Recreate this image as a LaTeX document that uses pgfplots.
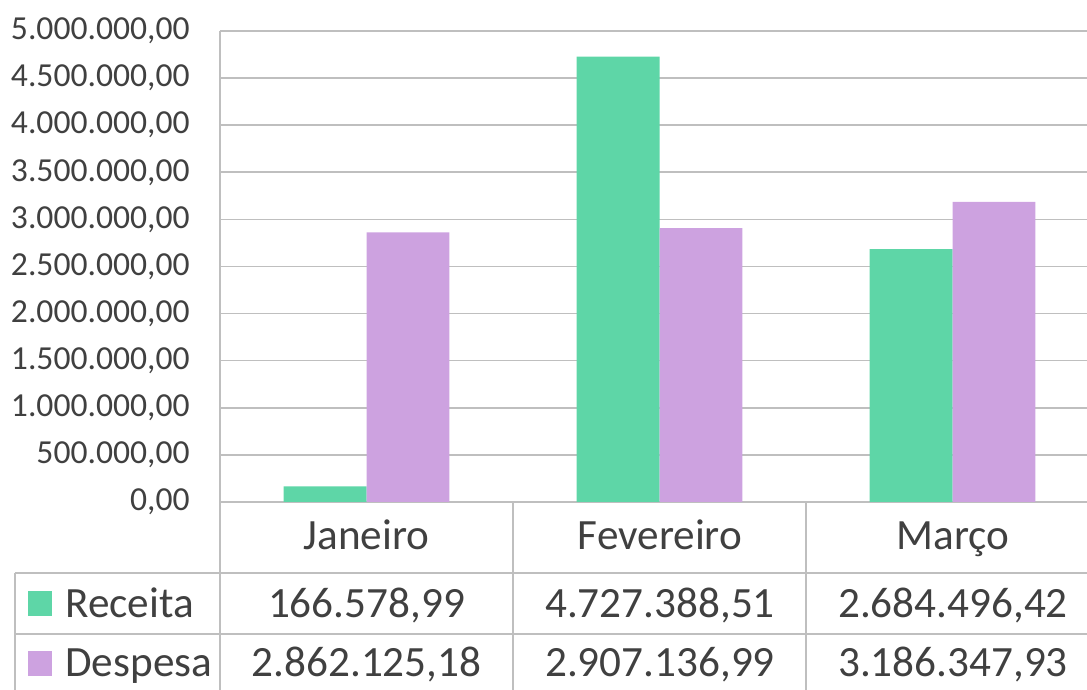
\documentclass[border=0pt]{standalone}
\usepackage{pgfplots}
\pgfplotsset{compat=1.18}
\usepackage{fontspec}
\setmainfont{Carlito}
\definecolor{recgreen}{HTML}{5ED6A7}
\definecolor{desppurple}{HTML}{CDA2E0}
\definecolor{txt}{HTML}{404040}
\definecolor{gridc}{HTML}{BFBFBF}
\begin{document}
\begin{tikzpicture}
\begin{axis}[
  name=ax,
  scale only axis,
  width=433.5pt, height=235.5pt,
  xmin=-0.5, xmax=2.459,
  ymin=0, ymax=5000000,
  axis line style={draw=none},
  xtick=\empty,
  ytick={0,500000,1000000,1500000,2000000,2500000,3000000,3500000,4000000,4500000,5000000},
  yticklabels={{0,00},{500.000,00},{1.000.000,00},{1.500.000,00},{2.000.000,00},{2.500.000,00},{3.000.000,00},{3.500.000,00},{4.000.000,00},{4.500.000,00},{5.000.000,00}},
  scaled y ticks=false,
  major tick length=0pt,
  ymajorgrids,
  major grid style={gridc, line width=0.8pt},
  yticklabel style={font=\fontsize{16.8}{18}\selectfont, text=txt, inner sep=0pt, anchor=east, xshift=-15pt},
  clip=false,
]
\addplot[ybar, fill=recgreen, draw=none, bar width=0.283, bar shift=-0.1415]
  coordinates {(0,166578.99) (1,4727388.51) (2,2684496.42)};
\addplot[ybar, fill=desppurple, draw=none, bar width=0.283, bar shift=0.1415]
  coordinates {(0,2862125.18) (1,2907136.99) (2,3186347.93)};
\end{axis}
\begin{scope}[shift={(ax.south west)}]
  % table lines
  \draw[gridc, line width=0.8pt] (0,235.5pt) -- (0,-100pt);
  \draw[gridc, line width=0.8pt] (146.5pt,0) -- (146.5pt,-100pt);
  \draw[gridc, line width=0.8pt] (293pt,0) -- (293pt,-100pt);
  \draw[gridc, line width=0.8pt] (-102.5pt,-35.5pt) -- (-102.5pt,-100pt);
  \draw[gridc, line width=0.8pt] (-102.5pt,-35.5pt) -- (440pt,-35.5pt);
  \draw[gridc, line width=0.8pt] (-102.5pt,-66pt) -- (440pt,-66pt);
  \begin{scope}[every node/.style={font=\fontsize{21.6}{24}\selectfont, text=txt, inner sep=0pt, anchor=base}]
    \node at (73.25pt,-24pt) {Janeiro};
    \node at (220pt,-24pt) {Fevereiro};
    \node at (366.5pt,-24pt) {Março};
    \node at (73.25pt,-58pt) {166.578,99};
    \node at (220pt,-58pt) {4.727.388,51};
    \node at (366.5pt,-58pt) {2.684.496,42};
    \node at (73.25pt,-87.5pt) {2.862.125,18};
    \node at (220pt,-87.5pt) {2.907.136,99};
    \node at (366.5pt,-87.5pt) {3.186.347,93};
    \node[anchor=base west] at (-77.5pt,-58pt) {Receita};
    \node[anchor=base west] at (-77.5pt,-87.5pt) {Despesa};
  \end{scope}
  \fill[recgreen] (-96pt,-57pt) rectangle (-84pt,-44.5pt);
  \fill[desppurple] (-96pt,-87pt) rectangle (-84pt,-74.5pt);
  \pgfresetboundingbox
  \path[use as bounding box] (-110pt,-94pt) rectangle (433.5pt,251pt);
\end{scope}
\end{tikzpicture}
\end{document}
